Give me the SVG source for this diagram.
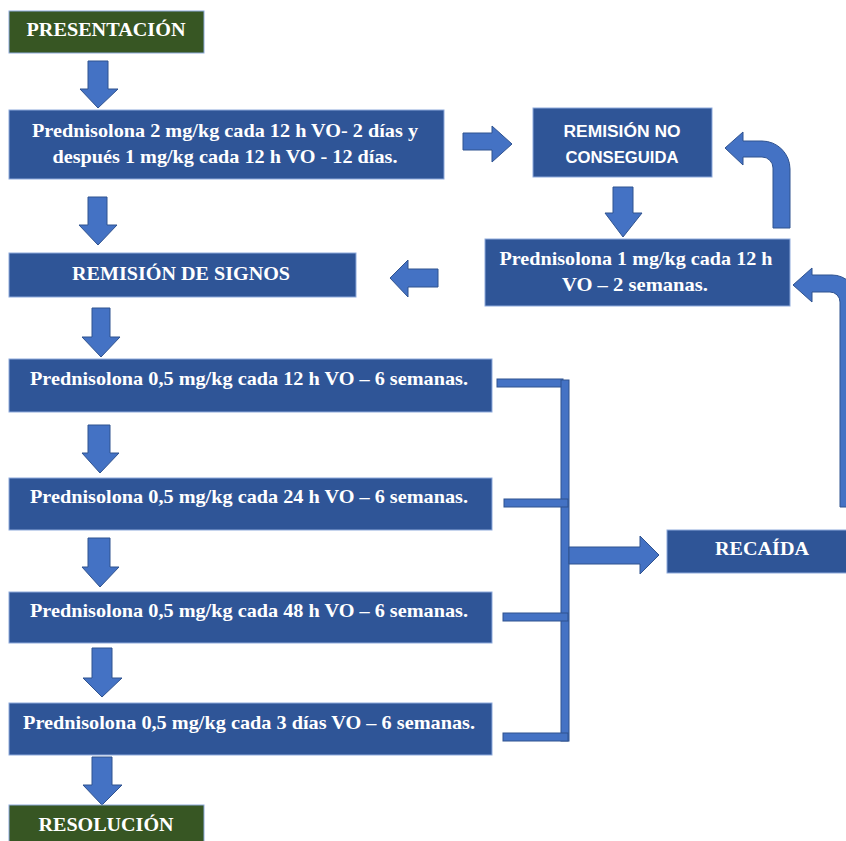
<svg xmlns="http://www.w3.org/2000/svg" width="846" height="841" viewBox="0 0 846 841">
<style>
.box{fill:#2f5597;stroke:#8eaadb;stroke-width:1}
.green{fill:#375623;stroke:#8eaadb;stroke-width:1}
.arr{fill:#4472c4;stroke:#2f528f;stroke-width:1}
.t{font-family:"Liberation Serif","Times New Roman",serif;font-weight:bold;fill:#ffffff;text-anchor:middle;font-size:19px}
.s{font-family:"Liberation Sans",Arial,sans-serif;font-weight:bold;fill:#ffffff;text-anchor:middle;font-size:16px}
</style>
<rect x="0" y="0" width="846" height="841" fill="#ffffff"/>
<g id="connectors">
  <path class="arr" d="M88,61 L108,61 L108,89 L118,89 L98,108 L80,89 L88,89 Z"/>
  <path class="arr" d="M88,197 L107,197 L107,225 L117,225 L98,245 L79,225 L88,225 Z"/>
  <path class="arr" d="M92,308 L110,308 L110,337 L120,337 L101,357 L82,337 L92,337 Z"/>
  <path class="arr" d="M88,425 L110,425 L110,453 L119,453 L100,473 L82,453 L88,453 Z"/>
  <path class="arr" d="M88,538 L110,538 L110,567 L119,567 L100,587 L82,567 L88,567 Z"/>
  <path class="arr" d="M92,648 L112,648 L112,678 L122,678 L102,697 L83,678 L92,678 Z"/>
  <path class="arr" d="M92,757 L112,757 L112,785 L122,785 L102,805 L83,785 L92,785 Z"/>
  <path class="arr" d="M463,133 L492,133 L492,126 L512,144 L492,162 L492,150 L463,150 Z"/>
  <path class="arr" d="M613,187 L633,187 L633,213 L642,213 L623,237 L605,213 L613,213 Z"/>
  <path class="arr" d="M438,269 L408,269 L408,260 L390,278 L408,297 L408,287 L438,287 Z"/>
  <path class="arr" d="M773,228 L790,228 L790,169 A28,28 0 0 0 762,141 L743,141 L743,132 L725,148 L743,165 L743,157 L762,157 A11,11 0 0 1 773,168 Z"/>
  <path class="arr" d="M840,507 L857,507 L857,300 A25,25 0 0 0 832,275 L812,275 L812,268 L793,285 L812,302 L812,292 L830,292 A10,10 0 0 1 840,302 Z"/>
  <rect class="arr" x="497" y="379" width="66" height="8"/>
  <rect class="arr" x="561" y="380" width="8" height="361"/>
  <rect class="arr" x="504" y="499" width="64" height="8"/>
  <rect class="arr" x="503" y="613" width="65" height="8"/>
  <rect class="arr" x="503" y="733" width="65" height="8"/>
  <path class="arr" d="M569,547 L640,547 L640,536 L659,555 L640,574 L640,564 L569,564 Z"/>
</g>
<g id="presentacion">
  <rect class="green" x="9" y="11" width="195" height="42"/>
  <text class="t" x="106" y="36" font-size="18" textLength="159" lengthAdjust="spacingAndGlyphs">PRESENTACIÓN</text>
</g>
<g id="prednisolona-2mg">
  <rect class="box" x="9" y="110" width="435" height="69"/>
  <text class="t" x="225" y="137" textLength="386" lengthAdjust="spacingAndGlyphs">Prednisolona 2 mg/kg cada 12 h VO- 2 días y</text>
  <text class="t" x="225" y="163" textLength="345" lengthAdjust="spacingAndGlyphs">después 1 mg/kg cada 12 h VO - 12 días.</text>
</g>
<g id="remision-no-conseguida">
  <rect class="box" x="533" y="108" width="179" height="69"/>
  <text class="s" x="622" y="137" textLength="117" lengthAdjust="spacingAndGlyphs">REMISIÓN NO</text>
  <text class="s" x="622" y="163" textLength="113" lengthAdjust="spacingAndGlyphs">CONSEGUIDA</text>
</g>
<g id="prednisolona-1mg">
  <rect class="box" x="485" y="239" width="305" height="67"/>
  <text class="t" x="636" y="265" textLength="273" lengthAdjust="spacingAndGlyphs">Prednisolona 1 mg/kg cada 12 h</text>
  <text class="t" x="635" y="291" textLength="146" lengthAdjust="spacingAndGlyphs">VO – 2 semanas.</text>
</g>
<g id="remision-signos">
  <rect class="box" x="9" y="253" width="347" height="44"/>
  <text class="t" x="181" y="280" textLength="218" lengthAdjust="spacingAndGlyphs">REMISIÓN DE SIGNOS</text>
</g>
<g id="prednisolona-05-12h">
  <rect class="box" x="9" y="359" width="483" height="53"/>
  <text class="t" x="249" y="385" textLength="438" lengthAdjust="spacingAndGlyphs">Prednisolona 0,5 mg/kg cada 12 h VO – 6 semanas.</text>
</g>
<g id="prednisolona-05-24h">
  <rect class="box" x="9" y="478" width="483" height="52"/>
  <text class="t" x="249" y="503" textLength="438" lengthAdjust="spacingAndGlyphs">Prednisolona 0,5 mg/kg cada 24 h VO – 6 semanas.</text>
</g>
<g id="prednisolona-05-48h">
  <rect class="box" x="9" y="592" width="483" height="51"/>
  <text class="t" x="249" y="617" textLength="438" lengthAdjust="spacingAndGlyphs">Prednisolona 0,5 mg/kg cada 48 h VO – 6 semanas.</text>
</g>
<g id="prednisolona-05-3dias">
  <rect class="box" x="9" y="703" width="483" height="52"/>
  <text class="t" x="249" y="729" textLength="452" lengthAdjust="spacingAndGlyphs">Prednisolona 0,5 mg/kg cada 3 días VO – 6 semanas.</text>
</g>
<g id="resolucion">
  <rect class="green" x="9" y="805" width="195" height="45"/>
  <text class="t" x="106" y="831" font-size="18" textLength="135" lengthAdjust="spacingAndGlyphs">RESOLUCIÓN</text>
</g>
<g id="recaida">
  <rect class="box" x="667" y="530" width="185" height="43"/>
  <text class="t" x="762" y="555" font-size="18" textLength="94" lengthAdjust="spacingAndGlyphs">RECAÍDA</text>
</g>
</svg>
